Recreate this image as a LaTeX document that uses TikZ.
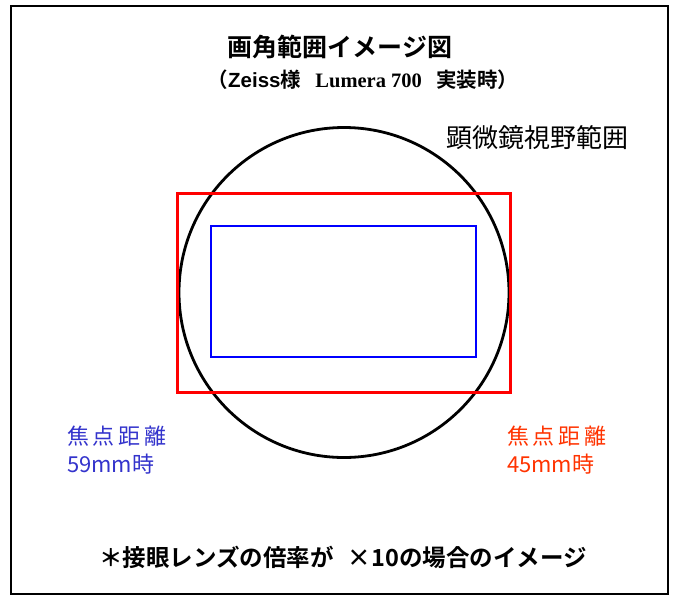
\documentclass[tikz,border=0pt]{standalone}
\usepackage{fontspec}
\setmainfont{Noto Sans CJK JP}
\newfontfamily\jpb{Noto Sans CJK JP Bold}
\newfontfamily\serb{Liberation Serif}
\newfontfamily\sanb{Liberation Sans}
\definecolor{txtblue}{HTML}{3333CC}
\definecolor{txtred}{HTML}{FF3300}
\begin{document}
\begin{tikzpicture}[x=1pt,y=-1pt,
  frame/.style={draw=black,line width=2.6pt},
  fieldcircle/.style={draw=black,line width=2.8pt},
  redbox/.style={draw=red,line width=3pt},
  bluebox/.style={draw=blue,line width=2.6pt},
  lbl/.style={inner sep=0pt,align=left},
  focal/.style={lbl,anchor=north west,font=\fontsize{22}{28}\selectfont}]
\useasboundingbox (0,0) rectangle (675,595);
\fill[white] (0,0) rectangle (675,595);
\draw[frame] (11,6) rectangle (668,594);
\node[lbl] (title) at (340,47) {\fontsize{25}{28}\selectfont\jpb 画角範囲イメージ図};
\node[lbl] (sub) at (363,80) {\fontsize{20.5}{24}\selectfont\jpb （{\sanb\bfseries Zeiss}様\hspace{0.7em}{\serb\bfseries Lumera 700}\hspace{0.7em}実装時）};
\node[lbl,anchor=west] (fov) at (446,138) {\fontsize{26}{28}\selectfont 顕微鏡視野範囲};
\node[draw=none,circle,minimum size=0pt] (c) at (344,292.5) {};
\draw[fieldcircle] (c.center) circle[radius=165];
\draw[redbox] (177.5,193) rectangle (510,392);
\draw[bluebox] (211,226) rectangle (476,357);
\node[focal,text=txtblue] (f59) at (67,426) {焦\,点\,距\,離\\59mm時};
\node[focal,text=txtred] (f45) at (507,426) {焦\,点\,距\,離\\45mm時};
\node[lbl] (note) at (343,557) {\fontsize{23.5}{26}\selectfont\jpb ＊接眼レンズの倍率が\hspace{0.6em}×10の場合のイメージ};
\end{tikzpicture}
\end{document}
